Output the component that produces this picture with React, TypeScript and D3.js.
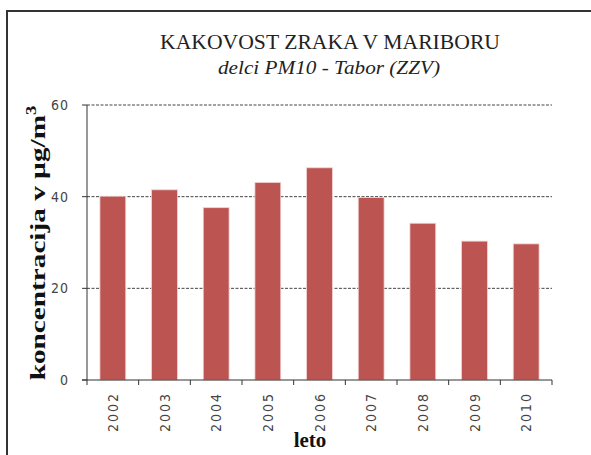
import React from "react";
import * as d3 from "d3";

const years = ["2002", "2003", "2004", "2005", "2006", "2007", "2008", "2009", "2010"];
const values = [40.1, 41.5, 37.6, 43.1, 46.3, 39.8, 34.2, 30.3, 29.7];
const yTicks = [0, 20, 40, 60];
const title = "KAKOVOST ZRAKA V MARIBORU";
const subtitle = "delci PM10 - Tabor (ZZV)";
const yLabel = "koncentracija v µg/m";
const xLabel = "leto";

export default function App() {
  const W = 591, H = 455;
  const left = 87, right = 552, top = 105, bottom = 380;
  const x = d3.scaleBand<string>().domain(years).range([left, right]).paddingInner(0.5).paddingOuter(0.25);
  const xb = d3.scaleBand<string>().domain(years).range([left, right]);
  const y = d3.scaleLinear().domain([0, 60]).range([bottom, top]);
  const tickFont = "'Liberation Sans Narrow', 'DejaVu Sans Condensed', Arial, sans-serif";
  const serif = "'Liberation Serif', 'Times New Roman', serif";
  return (
    <svg width={W} height={H} style={{ position: "absolute", left: 0, top: 0, background: "#fff" }}>
      <rect x={7} y={11} width={W + 20} height={H + 20} fill="#fff" stroke="#333" strokeWidth={2} />
      <text x={330} y={49} textAnchor="middle" fontFamily={serif} fontSize={20} fill="#222" textLength={340} lengthAdjust="spacingAndGlyphs">{title}</text>
      <text x={329} y={74} textAnchor="middle" fontFamily={serif} fontSize={19} fontStyle="italic" fill="#222" textLength={222} lengthAdjust="spacingAndGlyphs">{subtitle}</text>
      {yTicks.filter(t => t > 0).map(t => (
        <line key={"g" + t} x1={left} x2={right} y1={y(t)} y2={y(t)} stroke="#444" strokeWidth={1} strokeDasharray="3,1.5" />
      ))}
      {years.map((yr, i) => (
        <rect key={yr} x={x(yr)} y={y(values[i])} width={x.bandwidth()} height={bottom - y(values[i])} fill="#BC5552" stroke="#F2D3D2" strokeWidth={0.8} />
      ))}
      <line x1={left} x2={left} y1={top} y2={bottom} stroke="#333" strokeWidth={1} />
      <line x1={left - 5} x2={right} y1={bottom} y2={bottom} stroke="#333" strokeWidth={1} />
      {yTicks.map(t => (
        <g key={"t" + t}>
          <line x1={left - 5} x2={left} y1={y(t)} y2={y(t)} stroke="#333" strokeWidth={1} />
          <text x={left - 18} y={y(t) + 5} textAnchor="end" fontFamily={tickFont} fontSize={14} fill="#444" letterSpacing={1}>{t}</text>
        </g>
      ))}
      {years.map(yr => (
        <line key={"xt" + yr} x1={xb(yr)} x2={xb(yr)} y1={bottom} y2={bottom + 5} stroke="#333" strokeWidth={1} />
      ))}
      <line x1={right} x2={right} y1={bottom} y2={bottom + 5} stroke="#333" strokeWidth={1} />
      {years.map(yr => {
        const cx = (xb(yr) as number) + xb.bandwidth() / 2;
        return (
          <text key={"xl" + yr} transform={`translate(${cx + 5},392) rotate(-90)`} textAnchor="end" fontFamily={tickFont} fontSize={14} fill="#444" letterSpacing={2}>{yr}</text>
        );
      })}
      <text transform="translate(45,243) rotate(-90) scale(1.33,1)" textAnchor="middle" fontFamily={serif} fontSize={22} fontWeight="bold" fill="#111">
        {yLabel}<tspan fontSize={14} dy={-9}>3</tspan>
      </text>
      <text x={310} y={447} textAnchor="middle" fontFamily={serif} fontSize={21} fontWeight="bold" fill="#111">{xLabel}</text>
    </svg>
  );
}
